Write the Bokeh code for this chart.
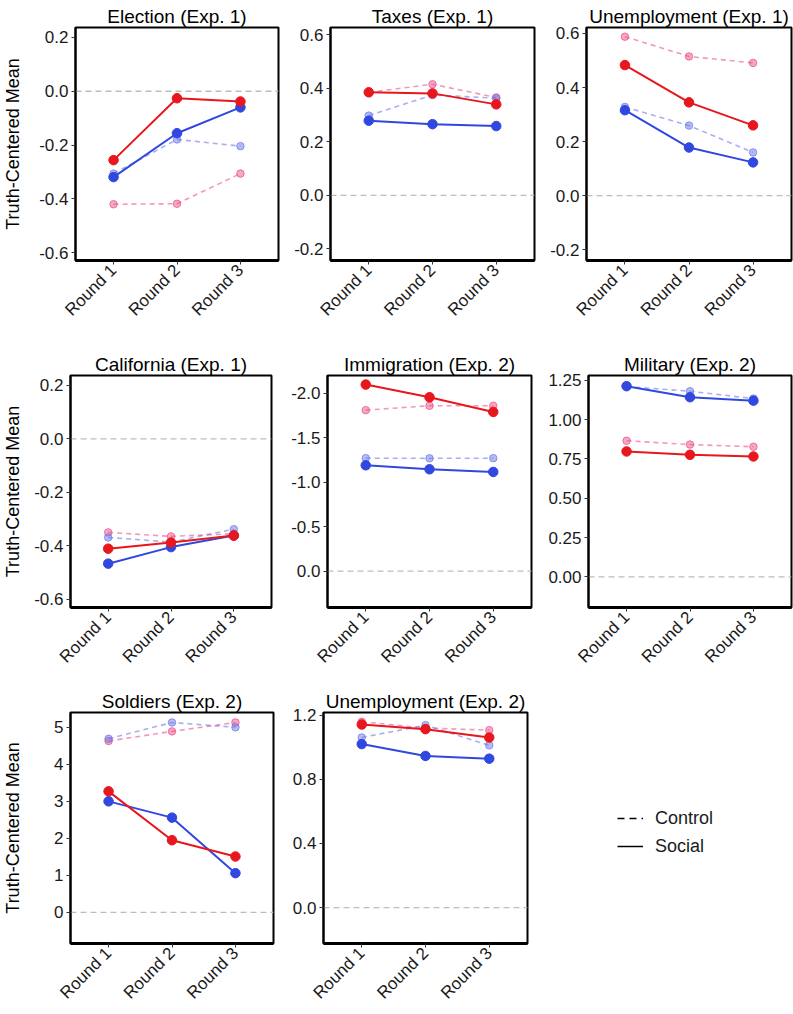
import math
from bokeh.plotting import figure
from bokeh.layouts import column, row
from bokeh.models import (Range1d, FactorRange, FixedTicker, Span, Legend,
                          LegendItem, NumeralTickFormatter)
from bokeh.embed import file_html
from bokeh.resources import INLINE

# ---------------- data ----------------
rounds = ["Round 1", "Round 2", "Round 3"]

election_rep_social = [-0.256, -0.026, -0.038]
election_dem_social = [-0.319, -0.156, -0.060]
election_dem_control = [-0.306, -0.179, -0.204]
election_rep_control = [-0.420, -0.418, -0.306]

taxes_rep_social = [0.385, 0.381, 0.340]
taxes_dem_social = [0.279, 0.266, 0.259]
taxes_dem_control = [0.298, 0.375, 0.363]
taxes_rep_control = [0.385, 0.415, 0.366]

unemp1_rep_social = [0.483, 0.345, 0.260]
unemp1_dem_social = [0.316, 0.178, 0.123]
unemp1_dem_control = [0.328, 0.259, 0.160]
unemp1_rep_control = [0.588, 0.515, 0.491]

calif_rep_social = [-0.411, -0.388, -0.362]
calif_dem_social = [-0.467, -0.405, -0.362]
calif_dem_control = [-0.369, -0.386, -0.338]
calif_rep_control = [-0.350, -0.365, -0.355]

immig_rep_social = [-2.098, -1.955, -1.790]
immig_dem_social = [-1.190, -1.145, -1.115]
immig_dem_control = [-1.270, -1.268, -1.270]
immig_rep_control = [-1.810, -1.860, -1.860]

milit_rep_social = [0.797, 0.776, 0.765]
milit_dem_social = [1.212, 1.142, 1.120]
milit_dem_control = [1.210, 1.180, 1.133]
milit_rep_control = [0.865, 0.841, 0.827]

soldiers_rep_social = [3.27, 1.95, 1.51]
soldiers_dem_social = [3.00, 2.56, 1.06]
soldiers_dem_control = [4.69, 5.13, 5.00]
soldiers_rep_control = [4.63, 4.89, 5.13]

unemp2_rep_social = [1.142, 1.113, 1.061]
unemp2_dem_social = [1.020, 0.946, 0.929]
unemp2_dem_control = [1.061, 1.138, 1.012]
unemp2_rep_control = [1.159, 1.120, 1.107]

ticks_exp1a = [-0.6, -0.4, -0.2, 0.0, 0.2]
ticks_exp1b = [-0.2, 0.0, 0.2, 0.4, 0.6]
ticks_immig = [-2.0, -1.5, -1.0, -0.5, 0.0]
ticks_milit = [0.0, 0.25, 0.5, 0.75, 1.0, 1.25]
ticks_soldiers = [0, 1, 2, 3, 4, 5]
ticks_unemp2 = [0.0, 0.4, 0.8, 1.2]

legend_labels = ["Control", "Social"]

# ---------------- style ----------------
RED = "#E8161D"
BLUE = "#3148E0"
PINK = "#EC528C"
LBLUE = "#6E79E8"
FONT = "Liberation Sans"


def panel(title, ticks, fmt, yr, rep_s, dem_s, dem_c, rep_c, w, h, bl, br, bt, bb,
          ylabel=False, lab_standoff=5):
    p = figure(width=w, height=h,
               x_range=FactorRange(factors=rounds, range_padding=0.1,
                                   range_padding_units="absolute"),
               y_range=Range1d(start=yr[0], end=yr[1]),
               output_backend="svg", toolbar_location=None,
               min_border_left=bl, min_border_right=br,
               min_border_top=bt, min_border_bottom=bb,
               title=title, background_fill_color="white",
               border_fill_color="white")
    p.title.align = "center"
    p.title.text_font = FONT
    p.title.text_font_size = "19px"
    p.title.text_font_style = "normal"
    p.title.text_color = "black"
    p.title.standoff = 2

    p.xgrid.visible = False
    p.ygrid.visible = False
    p.outline_line_color = "black"
    p.outline_line_width = 2
    p.outline_line_alpha = 1

    p.yaxis.ticker = FixedTicker(ticks=ticks)
    p.yaxis.formatter = NumeralTickFormatter(format=fmt)
    for ax in (p.xaxis[0], p.yaxis[0]):
        ax.major_label_text_font = FONT
        ax.major_label_text_font_size = "17px"
        ax.major_label_text_color = "#1a1a1a"
        ax.major_tick_line_color = "#333333"
        ax.major_tick_out = 4
        ax.major_tick_in = 0
        ax.minor_tick_line_color = None
        ax.axis_line_color = "black"
        ax.major_label_standoff = 3
    p.xaxis.axis_line_width = 3
    p.yaxis.axis_line_width = 2
    p.xaxis.major_label_orientation = math.pi / 4
    if ylabel:
        p.yaxis.axis_label = "Truth-Centered Mean"
        p.yaxis.axis_label_text_font = FONT
        p.yaxis.axis_label_text_font_size = "18px"
        p.yaxis.axis_label_text_font_style = "normal"
        p.yaxis.axis_label_text_color = "black"
        p.yaxis.axis_label_standoff = lab_standoff

    p.add_layout(Span(location=0, dimension="width", line_color="#BDBDBD",
                      line_dash="6 4", line_width=1.3, level="underlay"))

    for vals, col in ((rep_c, PINK), (dem_c, LBLUE)):
        p.line(rounds, vals, line_color=col, line_width=1.6, line_dash="5 4",
               line_alpha=0.6)
        p.scatter(rounds, vals, size=7.5, fill_color=col, fill_alpha=0.5,
                  line_color=col, line_alpha=0.75)
    for vals, col in ((dem_s, BLUE), (rep_s, RED)):
        p.line(rounds, vals, line_color=col, line_width=2)
        p.scatter(rounds, vals, size=9.5, fill_color=col, line_color=col)
    return p


H1, H2, H3 = 338, 347, 327
W1, W2, W3 = 282, 256, 255
BB = 78
BB3 = 66

p1 = panel("Election (Exp. 1)", ticks_exp1a, "0.0", (-0.629, 0.237),
           election_rep_social, election_dem_social, election_dem_control,
           election_rep_control, W1, H1, 73, 4, 27, BB, ylabel=True, lab_standoff=13)
p2 = panel("Taxes (Exp. 1)", ticks_exp1b, "0.0", (-0.243, 0.627),
           taxes_rep_social, taxes_dem_social, taxes_dem_control,
           taxes_rep_control, W2, H1, 48, 4, 27, BB)
p3 = panel("Unemployment (Exp. 1)", ticks_exp1b, "0.0", (-0.240, 0.622),
           unemp1_rep_social, unemp1_dem_social, unemp1_dem_control,
           unemp1_rep_control, W3, H1, 48, 2, 27, BB)

p4 = panel("California (Exp. 1)", ticks_exp1a, "0.0", (-0.631, 0.237),
           calif_rep_social, calif_dem_social, calif_dem_control,
           calif_rep_control, W1, H2, 66, 11, 37, BB, ylabel=True, lab_standoff=8)
p5 = panel("Immigration (Exp. 2)", ticks_immig, "0.0", (0.41, -2.2),
           immig_rep_social, immig_dem_social, immig_dem_control,
           immig_rep_control, W2, H2, 45, 7, 37, BB)
p6 = panel("Military (Exp. 2)", ticks_milit, "0.00", (-0.195, 1.28),
           milit_rep_social, milit_dem_social, milit_dem_control,
           milit_rep_control, W3, H2, 50, 2, 37, BB)

p7 = panel("Soldiers (Exp. 2)", ticks_soldiers, "0", (-0.84, 5.4),
           soldiers_rep_social, soldiers_dem_social, soldiers_dem_control,
           soldiers_rep_control, W1, H3, 68, 9, 27, BB3, ylabel=True, lab_standoff=28)
p8 = panel("Unemployment (Exp. 2)", ticks_unemp2, "0.0", (-0.224, 1.217),
           unemp2_rep_social, unemp2_dem_social, unemp2_dem_control,
           unemp2_rep_control, W2, H3, 41, 11, 27, BB3)

# legend panel
p9 = figure(width=W3, height=H3, x_range=Range1d(0, 1), y_range=Range1d(0, 1),
            output_backend="svg", toolbar_location=None, min_border=0,
            x_axis_location=None, y_axis_location=None,
            background_fill_color="white", border_fill_color="white")
p9.outline_line_color = None
p9.xgrid.visible = False
p9.ygrid.visible = False
# legend-only renderers, kept outside the visible range
r_c = p9.line([-5, -4], [-5, -5], line_color="black", line_width=1.5, line_dash="7 5")
r_s = p9.line([-5, -4], [-5, -5], line_color="black", line_width=1.5)
leg = Legend(items=[LegendItem(label=legend_labels[0], renderers=[r_c]),
                    LegendItem(label=legend_labels[1], renderers=[r_s])],
             location=(79, 84), glyph_width=26, glyph_height=26,
             label_standoff=12, spacing=2, padding=0, margin=0,
             border_line_color=None, background_fill_alpha=0,
             label_text_font=FONT, label_text_font_size="18px",
             label_text_color="#1a1a1a")
p9.add_layout(leg)

layout = column(row(p1, p2, p3), row(p4, p5, p6), row(p7, p8, p9))

open("out.html", "w").write(file_html(layout, INLINE))
